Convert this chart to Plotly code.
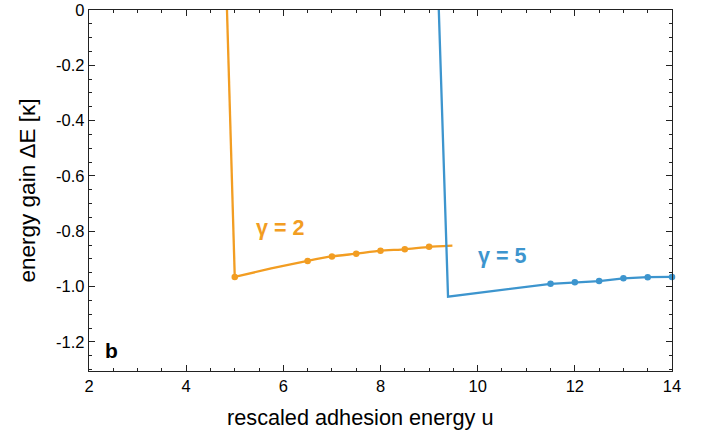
import plotly.graph_objects as go

# Data
g2_drop_u = [4.84, 5.0]
g2_drop_e = [0.0, -0.965]
g2_curve_u = [5.0, 5.75, 6.5, 7.0, 7.5, 8.0, 8.5, 9.0, 9.48]
g2_curve_e = [-0.965, -0.934, -0.907, -0.891, -0.881, -0.870, -0.865, -0.856, -0.852]
g2_dot_u = [5.0, 6.5, 7.0, 7.5, 8.0, 8.5, 9.0]
g2_dot_e = [-0.965, -0.907, -0.891, -0.881, -0.870, -0.865, -0.856]

g5_line_u = [9.2, 9.39, 11.5, 12.0, 12.5, 13.0, 13.5, 14.0]
g5_line_e = [0.0, -1.036, -0.990, -0.984, -0.980, -0.970, -0.966, -0.965]
g5_dot_u = [11.5, 12.0, 12.5, 13.0, 13.5, 14.0]
g5_dot_e = [-0.990, -0.984, -0.980, -0.970, -0.966, -0.965]

x_ticks = [2, 4, 6, 8, 10, 12, 14]
y_ticks = [0, -0.2, -0.4, -0.6, -0.8, -1.0, -1.2]
y_tick_text = ["0", "-0.2", "-0.4", "-0.6", "-0.8", "-1.0", "-1.2"]

ORANGE = "#F29D22"
BLUE = "#3D95CE"
FONT = "Liberation Sans, Arial"

fig = go.Figure()
fig.add_trace(go.Scatter(x=g2_drop_u, y=g2_drop_e, mode="lines",
                         line=dict(color=ORANGE, width=2.3), showlegend=False))
fig.add_trace(go.Scatter(x=g2_curve_u, y=g2_curve_e, mode="lines",
                         line=dict(color=ORANGE, width=2.3, shape="spline", smoothing=0.4),
                         showlegend=False))
fig.add_trace(go.Scatter(x=g2_dot_u, y=g2_dot_e, mode="markers",
                         marker=dict(color=ORANGE, size=6.5), showlegend=False))
fig.add_trace(go.Scatter(x=g5_line_u, y=g5_line_e, mode="lines",
                         line=dict(color=BLUE, width=2.3), showlegend=False))
fig.add_trace(go.Scatter(x=g5_dot_u, y=g5_dot_e, mode="markers",
                         marker=dict(color=BLUE, size=6.5), cliponaxis=False, showlegend=False))

fig.add_annotation(x=5.94, y=-0.789, text="<b>γ = 2</b>", showarrow=False,
                   font=dict(color=ORANGE, size=21.5, family=FONT))
fig.add_annotation(x=10.51, y=-0.888, text="<b>γ = 5</b>", showarrow=False,
                   font=dict(color=BLUE, size=21.5, family=FONT))
fig.add_annotation(x=2.46, y=-1.232, text="<b>b</b>", showarrow=False,
                   font=dict(color="black", size=21, family=FONT))
fig.add_annotation(xref="paper", yref="paper", x=0.465, y=-0.088, yanchor="top",
                   xanchor="center", text="rescaled adhesion energy u", showarrow=False,
                   font=dict(color="black", size=21.7, family=FONT))

axis_common = dict(showline=True, linecolor="#222", linewidth=1.3, mirror="allticks",
                   ticks="inside", ticklen=6, tickwidth=1.2, tickcolor="#222",
                   showgrid=False, zeroline=False, automargin=False,
                   tickfont=dict(size=16.5, color="black", family=FONT))

fig.update_xaxes(range=[2, 14], tickvals=x_ticks,
                 minor=dict(dtick=0.5, ticks="inside", ticklen=3, tickwidth=1.1, tickcolor="#222"),
                 **axis_common)
fig.update_yaxes(range=[-1.305, 0], tickvals=y_ticks, ticktext=y_tick_text,
                 minor=dict(dtick=0.05, ticks="inside", ticklen=3, tickwidth=1.1, tickcolor="#222"),
                 title=dict(text="energy gain ΔE [κ]", standoff=14,
                            font=dict(size=22.5, color="black", family=FONT)),
                 **axis_common)

fig.update_layout(width=709, height=432, margin=dict(l=89, r=37, t=10, b=61),
                  plot_bgcolor="white", paper_bgcolor="white")

fig.write_html("out.html", config={"displayModeBar": False},
               post_script="document.body.style.margin='0';")
